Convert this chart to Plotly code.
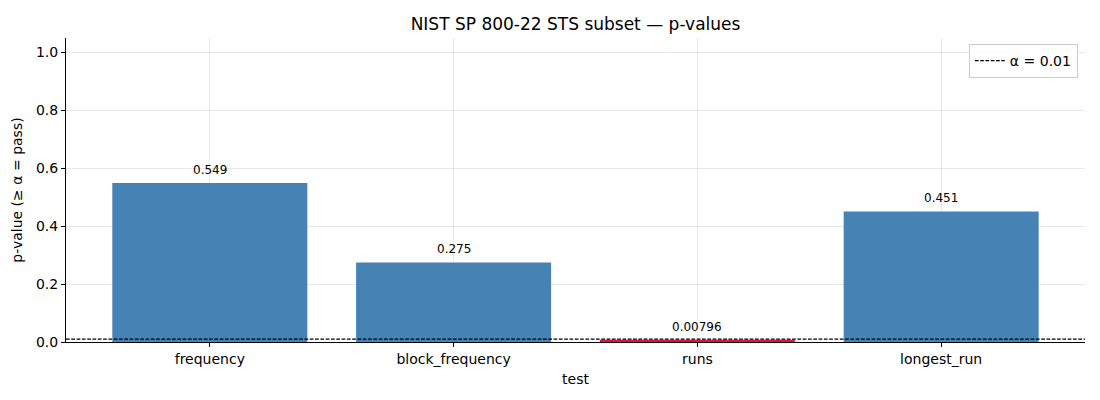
import plotly.graph_objects as go

# p-values from the NIST STS subset
tests = ['frequency', 'block_frequency', 'runs', 'longest_run']
p_values = [0.549, 0.275, 0.00796, 0.451]
labels = ['0.549', '0.275', '0.00796', '0.451']
ALPHA = 0.01

# failed tests go red, passed ones blue
colors = ['crimson' if p < ALPHA else 'steelblue' for p in p_values]
x_pos = list(range(len(tests)))

dash_style = '3.7px,1.6px'

fig = go.Figure()

fig.add_trace(go.Bar(
    x=x_pos,
    y=p_values,
    width=0.8,
    marker=dict(color=colors, line=dict(width=0)),
    showlegend=False,
    hoverinfo='skip',
))

# dummy trace so the threshold line shows in the legend
fig.add_trace(go.Scatter(
    x=[None], y=[None],
    mode='lines',
    name='α = 0.01',
    line=dict(color='black', width=1.2, dash=dash_style),
))

fig.add_shape(
    type='line', xref='paper', x0=0, x1=1, yref='y', y0=ALPHA, y1=ALPHA,
    line=dict(color='black', width=1.2, dash=dash_style), layer='above',
)

# value labels above each bar
for xi, p, lab in zip(x_pos, p_values, labels):
    fig.add_annotation(
        x=xi, y=p, text=lab, showarrow=False,
        yanchor='bottom', yshift=4,
        font=dict(size=12, color='black'),
    )

# page body has an 8px margin, so the figure is a bit smaller than the window
fig.update_layout(
    width=1084, height=384,
    margin=dict(l=58, r=7, t=30, b=50),
    plot_bgcolor='white', paper_bgcolor='white',
    font=dict(family='DejaVu Sans', size=14, color='black'),
    title=dict(text='NIST SP 800-22 STS subset — p-values', xref='paper', x=0.5, xanchor='center',
               y=1 - 16 / 384, yanchor='middle', font=dict(size=17)),
    legend=dict(
        x=0.993, xanchor='right', y=0.98, yanchor='top',
        bgcolor='rgba(255,255,255,0.8)', bordercolor='#cccccc', borderwidth=1,
        font=dict(size=14),
    ),
    xaxis=dict(
        range=[-0.59, 3.59],
        tickvals=x_pos, ticktext=tests,
        title=dict(text='test', font=dict(size=14), standoff=8),
        showline=True, linecolor='black', linewidth=1,
        ticks='outside', ticklen=4, tickcolor='black',
        showgrid=True, gridcolor='rgba(150,150,150,0.22)', gridwidth=1,
        zeroline=False, layer='above traces',
    ),
    yaxis=dict(
        range=[0, 1.05],
        tickvals=[0, 0.2, 0.4, 0.6, 0.8, 1.0],
        tickformat='.1f',
        title=dict(text='p-value (≥ α = pass)', font=dict(size=14), standoff=10),
        showline=True, linecolor='black', linewidth=1,
        ticks='outside', ticklen=4, tickcolor='black',
        showgrid=True, gridcolor='rgba(150,150,150,0.22)', gridwidth=1,
        zeroline=False, layer='above traces',
    ),
)

fig.write_html('out.html')
